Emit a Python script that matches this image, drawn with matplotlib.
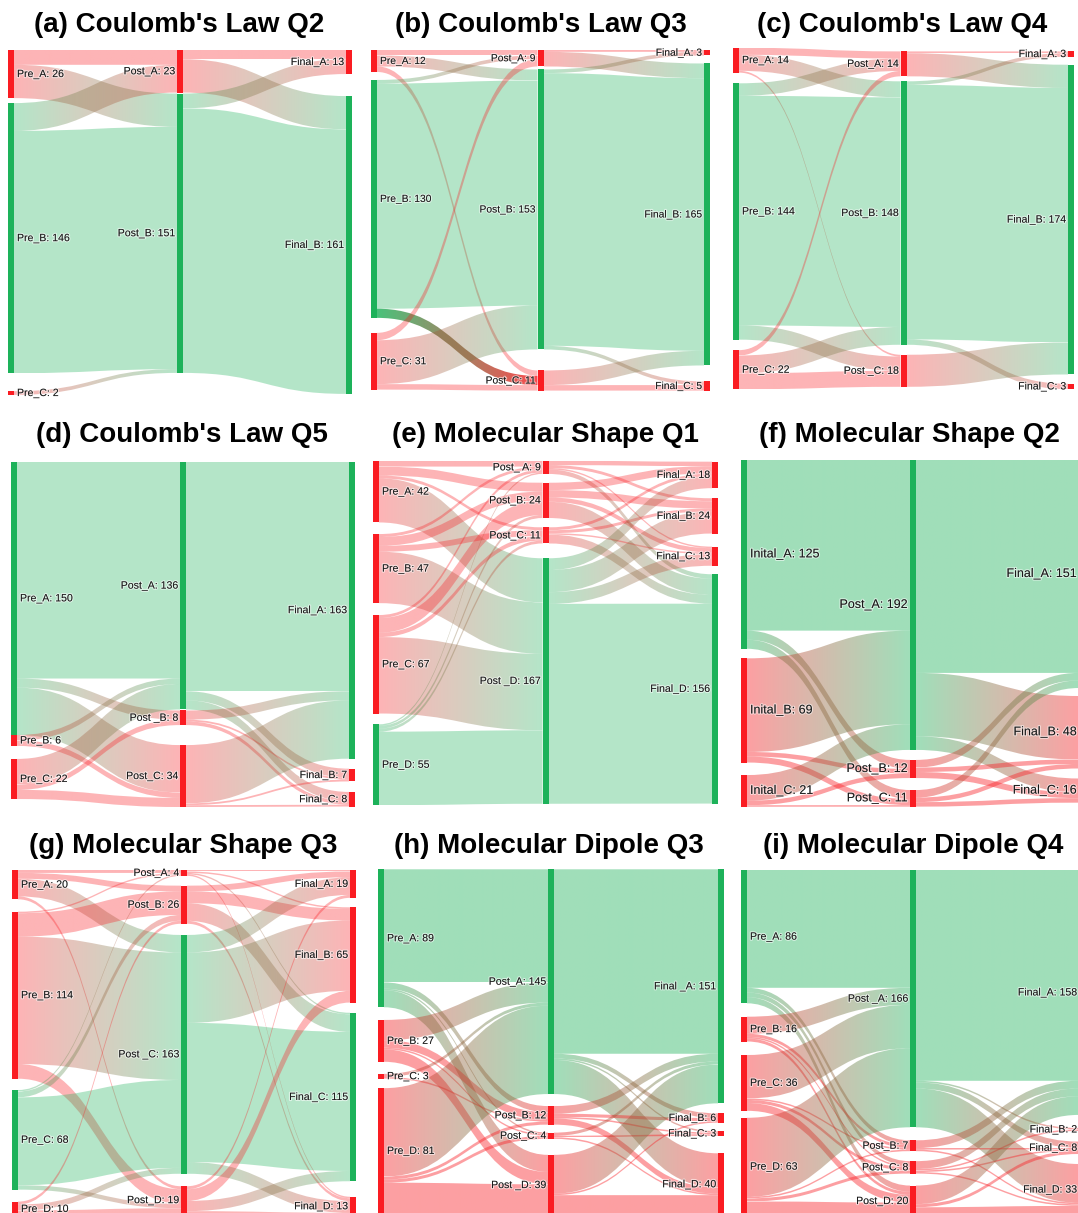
import numpy as np
import matplotlib
matplotlib.use("Agg")
import matplotlib.pyplot as plt
from matplotlib.path import Path
from matplotlib.patches import PathPatch, Rectangle
import matplotlib.patheffects as pe
from matplotlib.colors import to_rgb

# ======================= DATA =======================
# (a) Coulomb's Law Q2
a_title = "(a) Coulomb's Law Q2"
a_pre_names = ["Pre_A", "Pre_B", "Pre_C"]
a_pre_values = [26, 146, 2]
a_post_names = ["Post_A", "Post_B"]
a_post_values = [23, 151]
a_final_names = ["Final_A", "Final_B"]
a_final_values = [13, 161]
a_pre_to_post = [[8, 18], [15, 131], [0, 2]]
a_post_to_final = [[5, 18], [8, 143]]
a_correct = "B"

# (b) Coulomb's Law Q3
b_title = "(b) Coulomb's Law Q3"
b_pre_names = ["Pre_A", "Pre_B", "Pre_C"]
b_pre_values = [12, 130, 31]
b_post_names = ["Post_A", "Post_B", "Post_C"]
b_post_values = [9, 153, 11]
b_final_names = ["Final_A", "Final_B", "Final_C"]
b_final_values = [3, 165, 5]
b_pre_to_post = [[3, 6, 3], [2, 123, 5], [4, 24, 3]]
b_post_to_final = [[1, 8, 0], [2, 149, 2], [0, 8, 3]]
b_correct = "B"

# (c) Coulomb's Law Q4
c_title = "(c) Coulomb's Law Q4"
c_pre_names = ["Pre_A", "Pre_B", "Pre_C"]
c_pre_values = [14, 144, 22]
c_post_names = ["Post_A", "Post_B", "Post _C"]
c_post_values = [14, 148, 18]
c_final_names = ["Final_A", "Final_B", "Final_C"]
c_final_values = [3, 174, 3]
c_pre_to_post = [[4, 9, 1], [7, 129, 8], [3, 10, 9]]
c_post_to_final = [[1, 13, 0], [2, 143, 3], [0, 18, 0]]
c_correct = "B"

# (d) Coulomb's Law Q5
d_title = "(d) Coulomb's Law Q5"
d_pre_names = ["Pre_A", "Pre_B", "Pre_C"]
d_pre_values = [150, 6, 22]
d_post_names = ["Post_A", "Post _B", "Post_C"]
d_post_values = [136, 8, 34]
d_final_names = ["Final_A", "Final_B", "Final_C"]
d_final_values = [163, 7, 8]
d_pre_to_post = [[119, 5, 26], [3, 0, 3], [14, 3, 5]]
d_post_to_final = [[126, 5, 5], [5, 1, 2], [32, 1, 1]]
d_correct = "A"

# (e) Molecular Shape Q1
e_title = "(e) Molecular Shape Q1"
e_pre_names = ["Pre_A", "Pre_B", "Pre_C", "Pre_D"]
e_pre_values = [42, 47, 67, 55]
e_post_names = ["Post_ A", "Post_B", "Post_C", "Post _D"]
e_post_values = [9, 24, 11, 167]
e_final_names = ["Final_A", "Final_B", "Final_C", "Final_D"]
e_final_values = [18, 24, 13, 156]
e_pre_to_post = [[4, 6, 2, 30], [2, 6, 4, 35], [2, 10, 3, 52], [1, 2, 2, 50]]
e_post_to_final = [[3, 2, 1, 3], [5, 5, 3, 11], [2, 2, 1, 6], [8, 15, 8, 136]]
e_correct = "D"

# (f) Molecular Shape Q2
f_title = "(f) Molecular Shape Q2"
f_pre_names = ["Inital_A", "Inital_B", "Inital_C"]
f_pre_values = [125, 69, 21]
f_post_names = ["Post_A", "Post_B", "Post_C"]
f_post_values = [192, 12, 11]
f_final_names = ["Final_A", "Final_B", "Final_C"]
f_final_values = [151, 48, 16]
f_pre_to_post = [[113, 6, 6], [62, 3, 4], [17, 3, 1]]
f_post_to_final = [[141, 42, 9], [5, 3, 4], [5, 3, 3]]
f_correct = "A"

# (g) Molecular Shape Q3
g_title = "(g) Molecular Shape Q3"
g_pre_names = ["Pre_A", "Pre_B", "Pre_C", "Pre_D"]
g_pre_values = [20, 114, 68, 10]
g_post_names = ["Post_A", "Post_B", "Post _C", "Post_D"]
g_post_values = [4, 26, 163, 19]
g_final_names = ["Final_A", "Final_B", "Final_C", "Final_D"]
g_final_values = [19, 65, 115, 13]
g_pre_to_post = [[2, 4, 12, 2], [1, 16, 87, 10], [1, 4, 60, 3], [0, 2, 4, 4]]
g_post_to_final = [[1, 1, 1, 1], [4, 8, 12, 2], [12, 48, 95, 8], [2, 8, 7, 2]]
g_correct = "C"

# (h) Molecular Dipole Q3
h_title = "(h) Molecular Dipole Q3"
h_pre_names = ["Pre_A", "Pre_B", "Pre_C", "Pre_D"]
h_pre_values = [89, 27, 3, 81]
h_post_names = ["Post_A", "Post_B", "Post_C", "Post _D"]
h_post_values = [145, 12, 4, 39]
h_final_names = ["Final _A", "Final_B", "Final_C", "Final_D"]
h_final_values = [151, 6, 3, 40]
h_pre_to_post = [[73, 4, 1, 11], [13, 5, 1, 8], [2, 1, 0, 0], [57, 2, 2, 20]]
h_post_to_final = [[119, 3, 1, 22], [5, 2, 1, 4], [2, 0, 1, 1], [25, 1, 0, 13]]
h_correct = "A"

# (i) Molecular Dipole Q4
i_title = "(i) Molecular Dipole Q4"
i_pre_names = ["Pre_A", "Pre_B", "Pre_C", "Pre_D"]
i_pre_values = [86, 16, 36, 63]
i_post_names = ["Post _A", "Post_B", "Post_C", "Post_D"]
i_post_values = [166, 7, 8, 20]
i_final_names = ["Final_A", "Final_B", "Final_C", "Final_D"]
i_final_values = [158, 2, 8, 33]
i_pre_to_post = [[76, 3, 3, 4], [11, 2, 1, 2], [28, 1, 2, 5], [51, 1, 2, 9]]
i_post_to_final = [[136, 1, 4, 25], [5, 0, 1, 1], [5, 1, 1, 1], [12, 0, 2, 6]]
i_correct = "A"

# ======================= LAYOUT / STYLE =======================
W, H = 1078, 1213
GREEN = "#1db25a"
RED = "#fa1c22"
NODE_W = 6
PANEL_H = 350

# pixel geometry of each panel: left of first column, right of last column,
# top, pixels per unit, gaps (px) before each node of each column
LAYOUT = {
    "a": dict(x0=8, x1=352, top=50, ky=1.85,
              gaps=([0, 5, 18], [0, 1], [0, 22]), alpha=0.33, fs=7.6,
              tx=179, ty=25),
    "b": dict(x0=371, x1=710, top=50, ky=1.83,
              gaps=([0, 8, 15], [0, 3, 21], [0, 8, 16]), alpha=0.33, fs=7.4,
              tx=541, ty=25, highlight=(0, 1, 2, 0.8)),
    "c": dict(x0=733, x1=1074, top=47.7, ky=1.78,
              gaps=([0, 10.7, 10.5], [3.7, 5, 10], [3.7, 8, 9.3]), alpha=0.33, fs=7.6,
              tx=902, ty=25),
    "d": dict(x0=11, x1=355, top=461.7, ky=1.822,
              gaps=([0, 0, 13], [0, 1, 20], [0, 10, 10.5]), alpha=0.33, fs=7.6,
              tx=182, ty=435),
    "e": dict(x0=373, x1=718, top=460.7, ky=1.47,
              gaps=([0, 11.6, 11.9, 10.8], [0, 8.8, 9.3, 14.8], [1, 10.1, 13.1, 8.5]),
              alpha=0.33, fs=7.6, tx=545, ty=435),
    "f": dict(x0=741, x1=1085, top=460, ky=1.51,
              gaps=([0, 9.6, 12.5], [0, 10, 12], [0, 8, 10]), alpha=0.42, fs=9.0,
              tx=909, ty=435),
    "g": dict(x0=12, x1=356, top=870, ky=1.465,
              gaps=([0, 12.4, 11.3, 12], [0, 9.8, 11.2, 12.5], [0, 9.5, 10.2, 15.5]),
              alpha=0.33, fs=7.6, tx=183, ty=846),
    "h": dict(x0=378, x1=724, top=869.3, ky=1.55,
              gaps=([0, 12.7, 12.1, 9.6], [0, 12, 8, 16], [0, 10, 8.5, 17.5]),
              alpha=0.42, fs=7.6, tx=549, ty=846),
    "i": dict(x0=741, x1=1085, top=870, ky=1.55,
              gaps=([0, 13.4, 13.5, 7], [0, 13, 10, 12], [0, 13, 10.6, 10]),
              alpha=0.42, fs=7.6, tx=913, ty=846),
}

PANELS = [
    ("a", a_title, (a_pre_names, a_pre_values), (a_post_names, a_post_values),
     (a_final_names, a_final_values), (a_pre_to_post, a_post_to_final), a_correct),
    ("b", b_title, (b_pre_names, b_pre_values), (b_post_names, b_post_values),
     (b_final_names, b_final_values), (b_pre_to_post, b_post_to_final), b_correct),
    ("c", c_title, (c_pre_names, c_pre_values), (c_post_names, c_post_values),
     (c_final_names, c_final_values), (c_pre_to_post, c_post_to_final), c_correct),
    ("d", d_title, (d_pre_names, d_pre_values), (d_post_names, d_post_values),
     (d_final_names, d_final_values), (d_pre_to_post, d_post_to_final), d_correct),
    ("e", e_title, (e_pre_names, e_pre_values), (e_post_names, e_post_values),
     (e_final_names, e_final_values), (e_pre_to_post, e_post_to_final), e_correct),
    ("f", f_title, (f_pre_names, f_pre_values), (f_post_names, f_post_values),
     (f_final_names, f_final_values), (f_pre_to_post, f_post_to_final), f_correct),
    ("g", g_title, (g_pre_names, g_pre_values), (g_post_names, g_post_values),
     (g_final_names, g_final_values), (g_pre_to_post, g_post_to_final), g_correct),
    ("h", h_title, (h_pre_names, h_pre_values), (h_post_names, h_post_values),
     (h_final_names, h_final_values), (h_pre_to_post, h_post_to_final), h_correct),
    ("i", i_title, (i_pre_names, i_pre_values), (i_post_names, i_post_values),
     (i_final_names, i_final_values), (i_pre_to_post, i_post_to_final), i_correct),
]

plt.rcParams["font.family"] = ["Liberation Sans", "DejaVu Sans"]
fig = plt.figure(figsize=(W / 100, H / 100), dpi=100)
fig.patch.set_facecolor("white")


def gradient_link(ax, xs, xt, ys0, ys1, yt0, yt1, c0, c1, alpha):
    xm = (xs + xt) / 2.0
    verts = [(xs, ys0), (xm, ys0), (xm, yt0), (xt, yt0), (xt, yt1),
             (xm, yt1), (xm, ys1), (xs, ys1), (xs, ys0)]
    codes = [Path.MOVETO, Path.CURVE4, Path.CURVE4, Path.CURVE4, Path.LINETO,
             Path.CURVE4, Path.CURVE4, Path.CURVE4, Path.CLOSEPOLY]
    patch = PathPatch(Path(verts, codes), facecolor="none", edgecolor="none")
    ax.add_patch(patch)
    n = 128
    t = np.linspace(0, 1, n)
    img = np.zeros((1, n, 4))
    img[0, :, :3] = (1 - t)[:, None] * np.array(c0) + t[:, None] * np.array(c1)
    img[0, :, 3] = alpha
    ymin, ymax = min(ys0, yt0), max(ys1, yt1)
    im = ax.imshow(img, extent=(xs, xt, ymax, ymin), aspect="auto",
                   interpolation="bilinear", zorder=1)
    im.set_clip_path(patch)


def draw_panel(key, title, pre, post, final, flows, correct):
    lay = LAYOUT[key]
    x0, x1, top, ky = lay["x0"], lay["x1"], lay["top"], lay["ky"]
    span = x1 - x0
    ax = fig.add_axes([x0 / W, 1 - (top + PANEL_H) / H, span / W, PANEL_H / H])
    ax.axis("off")
    columns = [pre, post, final]
    col_x = [0, (span - NODE_W) / 2.0, span - NODE_W]

    # node positions in value units
    nodes = []
    for c, (names, vals) in enumerate(columns):
        y = 0.0
        col = []
        for i, v in enumerate(vals):
            y += lay["gaps"][c][i] / ky
            col.append((y, y + v))
            y += v
        nodes.append(col)

    def ncol(name):
        return to_rgb(GREEN if name.strip()[-1] == correct else RED)

    # links
    hl = lay.get("highlight")
    for s, F in enumerate(flows):
        src_off = [n[0] for n in nodes[s]]
        tgt_off = [n[0] for n in nodes[s + 1]]
        xs = col_x[s] + NODE_W
        xt = col_x[s + 1]
        for i, row in enumerate(F):
            for j, v in enumerate(row):
                if v <= 0:
                    continue
                ys0 = src_off[i]
                yt0 = tgt_off[j]
                src_off[i] += v
                tgt_off[j] += v
                a = lay["alpha"]
                if hl is not None and hl[:3] == (s, i, j):
                    a = hl[3]
                gradient_link(ax, xs, xt, ys0, ys0 + v, yt0, yt0 + v,
                              ncol(columns[s][0][i]), ncol(columns[s + 1][0][j]), a)

    # node bars and labels
    halo = [pe.withStroke(linewidth=1.6, foreground=(1, 1, 1, 0.55))]
    for c, (names, vals) in enumerate(columns):
        for i, (nm, v) in enumerate(zip(names, vals)):
            y0n, y1n = nodes[c][i]
            ax.add_patch(Rectangle((col_x[c], y0n), NODE_W, v, facecolor=ncol(nm),
                                   edgecolor="none", zorder=3))
            yc = (y0n + y1n) / 2.0
            if c == 0:
                ax.text(col_x[c] + NODE_W + 3, yc, f"{nm}: {v}", ha="left", va="center",
                        fontsize=lay["fs"], color="#1a1a1a", zorder=5, path_effects=halo)
            else:
                ax.text(col_x[c] - 2, yc, f"{nm}: {v}", ha="right", va="center",
                        fontsize=lay["fs"], color="#1a1a1a", zorder=5, path_effects=halo)

    ax.set_xlim(0, span)
    ax.set_ylim(PANEL_H / ky, 0)

    fig.text(lay["tx"] / W, 1 - lay["ty"] / H, title, ha="center", va="center",
             fontsize=20, fontweight="bold", color="black")


for p in PANELS:
    draw_panel(*p)

fig.savefig("out.png", dpi=100, facecolor="white")
